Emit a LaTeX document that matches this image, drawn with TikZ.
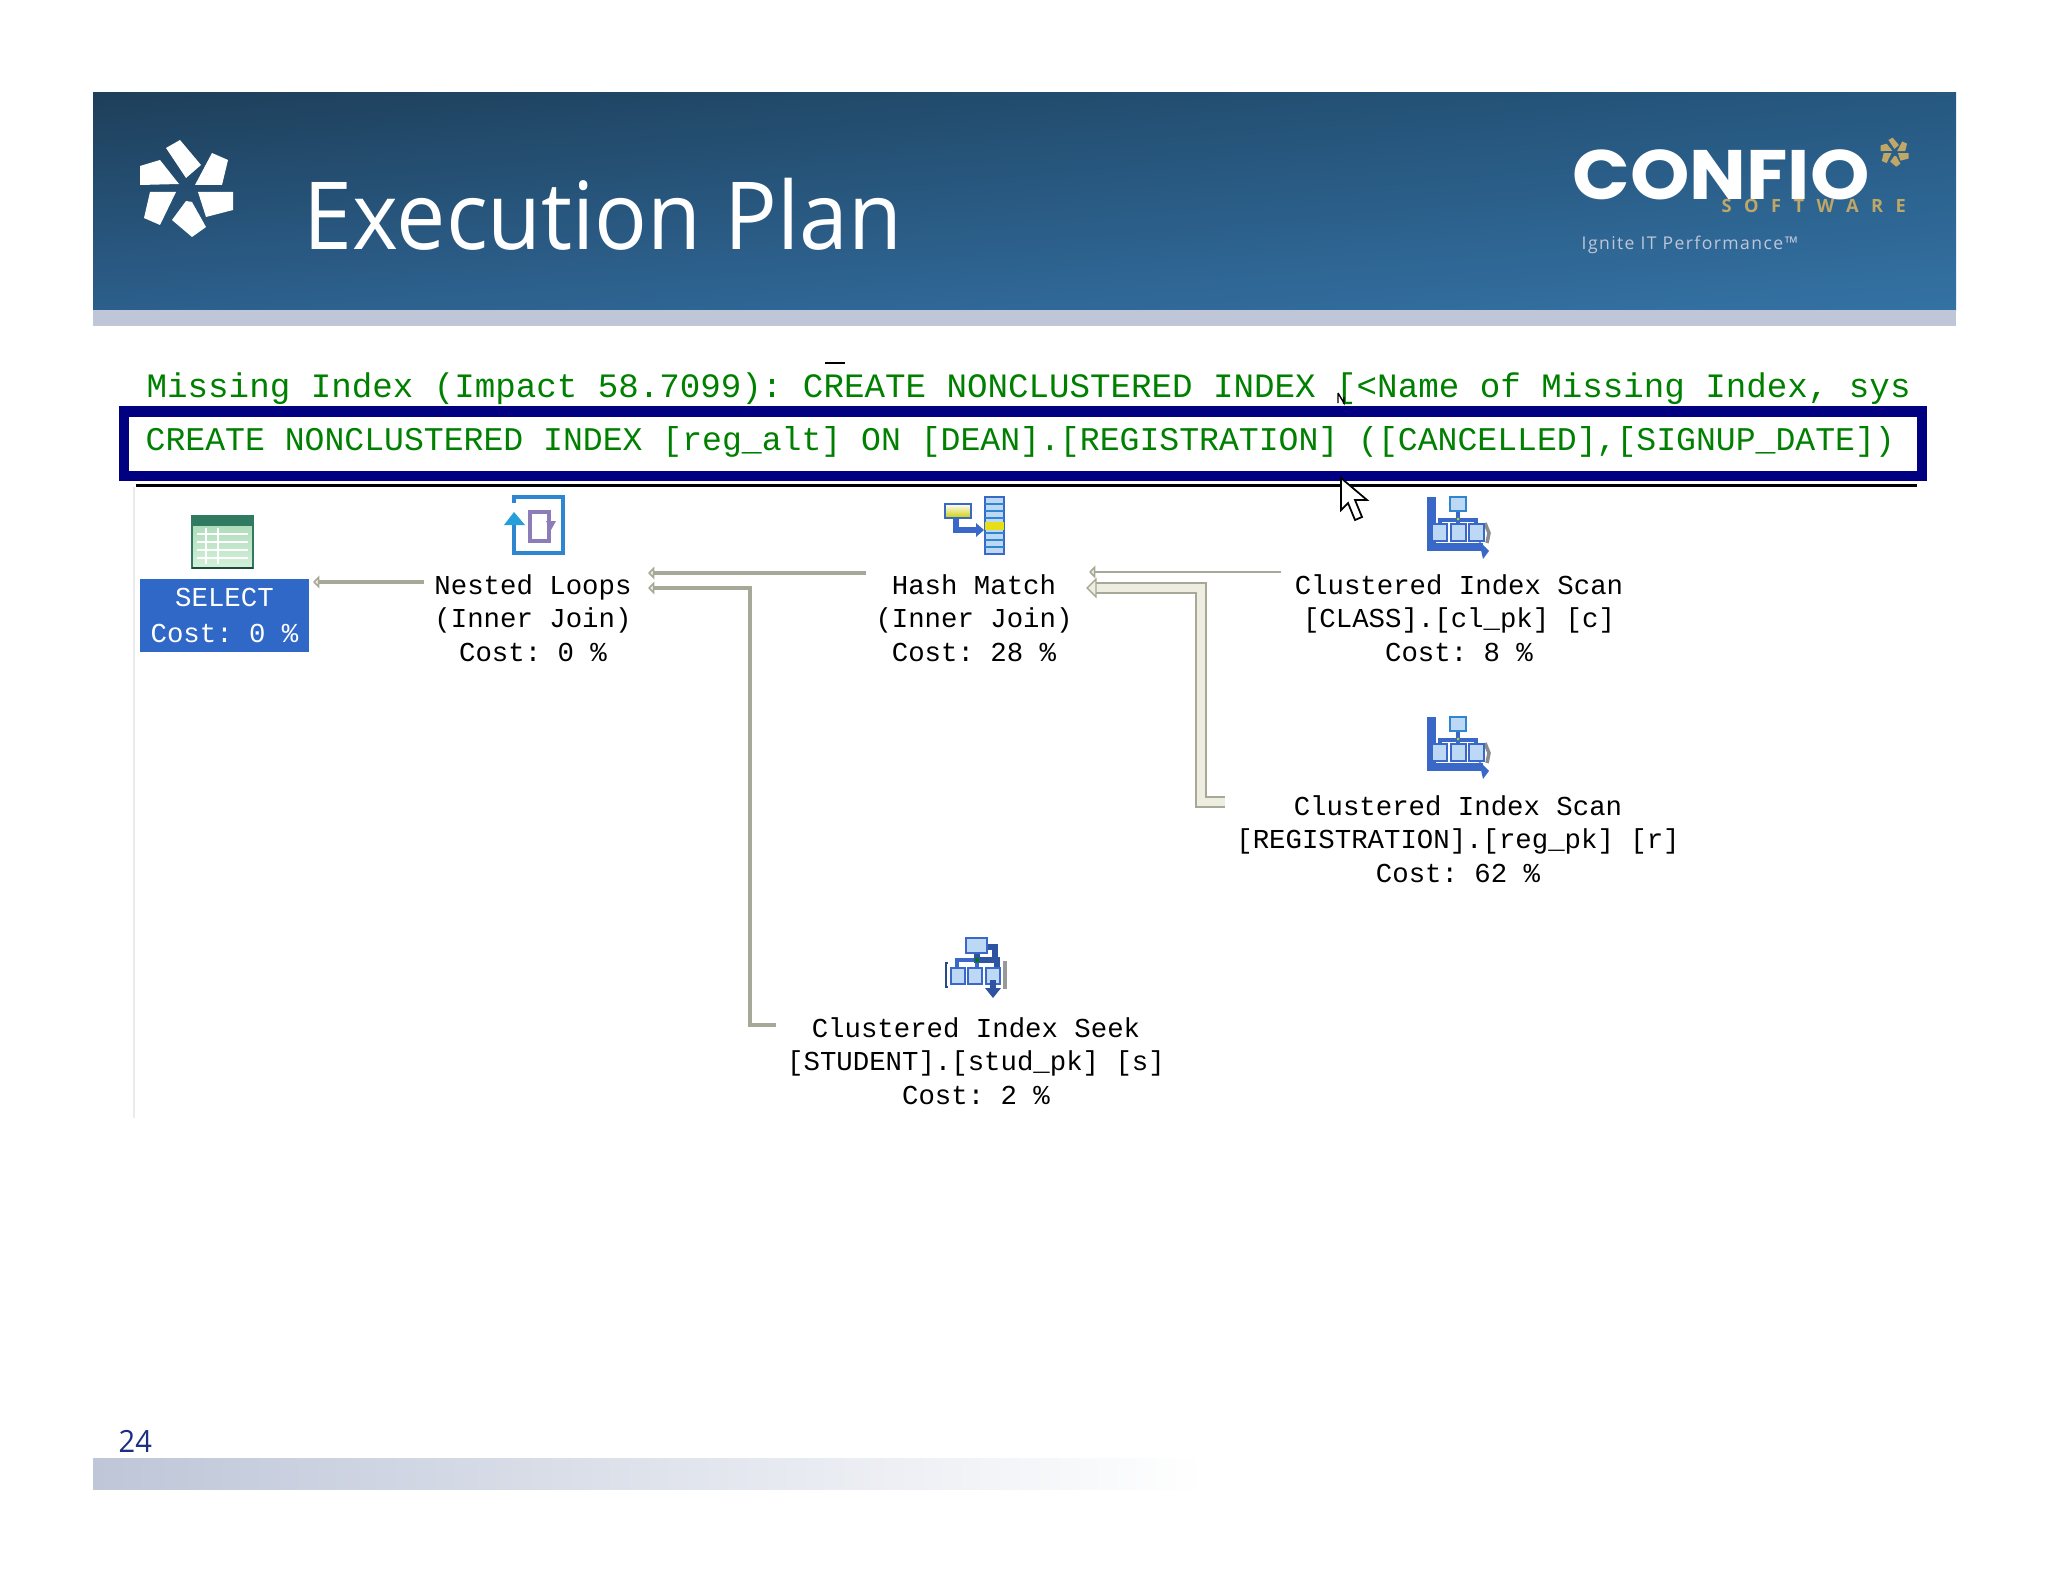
\documentclass[tikz,border=0pt]{standalone}
\usepackage{fontspec}
\setmainfont{Open Sans}
\setmonofont{Liberation Mono}
\newfontfamily\logofont{Poppins}
\usetikzlibrary{arrows.meta, shadings}

\definecolor{bannertl}{HTML}{1E3F5A}
\definecolor{bannertr}{HTML}{265880}
\definecolor{bannerbl}{HTML}{2C5F8C}
\definecolor{bannerbr}{HTML}{3472A4}
\definecolor{stripgrey}{HTML}{BEC6D8}
\definecolor{planblue}{HTML}{3068C8}
\definecolor{indexnavy}{HTML}{000080}
\definecolor{indexgreen}{HTML}{008000}
\definecolor{linkgrey}{HTML}{A8A898}
\definecolor{linkpale}{HTML}{EEEEE0}
\definecolor{logotan}{HTML}{BFA768}
\definecolor{iconblue}{HTML}{3A68C8}
\definecolor{iconpale}{HTML}{BCD8F4}
\definecolor{iconsky}{HTML}{2F86D0}
\definecolor{iconplum}{HTML}{8C7CB8}
\definecolor{tablehead}{HTML}{2F7A60}
\definecolor{tabletop}{HTML}{A8D8B4}
\definecolor{tablelow}{HTML}{D4F0DA}
\definecolor{pagenavy}{HTML}{1A2F80}

\tikzset{
	titletext/.style = {anchor = base west, inner sep = 0, text = white, font = \fontsize{26.7}{30}\selectfont\addfontfeature{FakeStretch = 0.935}},
	indextext/.style = {anchor = base west, inner sep = 0, text = indexgreen, font = \ttfamily\fontsize{9.72}{12}\selectfont},
	plantext/.style = {inner sep = 0, align = center, text = black, font = \ttfamily\fontsize{7.78}{9.6}\selectfont,
		execute at begin node = \strut, execute at end node = \strut},
	selectbox/.style = {inner sep = 0, align = center, font = \ttfamily\fontsize{7.78}{10.2}\selectfont, fill = planblue, text = white,
		minimum width = 1.69cm, minimum height = 0.73cm, execute at begin node = \rule{0pt}{7.2pt}},
	midlink/.style = {draw = linkgrey, line width = 1.3pt},
	thinlink/.style = {draw = linkgrey, line width = 0.8pt},
	widelink/.style = {draw = linkgrey, line width = 0.55pt, double = linkpale, double distance = 2.2pt},
	smalltip/.style = {-{Triangle[length = 1.8pt, width = 3.6pt, fill = linkpale]}}
}

% six petals round (0, 0)
\newcommand{\flowermark}[3]{
	\begin{scope}[shift = {(#1, #2)}, scale = #3]
		\fill (-22, -40) -- (-8, -48) -- (13, -23) -- (-2, -10) -- cycle;
		\fill (24, -35) -- (40, -28) -- (34, -3) -- (7, -3) -- cycle;
		\fill (10, 4) -- (45, 4) -- (45, 22) -- (18, 29) -- cycle;
		\fill (-16, 32) -- (4, 49) -- (18, 39) -- (4, 14) -- (-2, 13) -- cycle;
		\fill (-38, 4) -- (-12, 4) -- (-28, 37) -- (-44, 30) -- cycle;
		\fill (-48, -22) -- (-28, -28) -- (-9, -4) -- (-48, -3) -- cycle;
	\end{scope}
}

\newcommand{\tableicon}[2]{
	\begin{scope}[shift = {(#1, #2)}]
		\shade[top color = tabletop, bottom color = tablelow] (0, 0) rectangle (61, 52);
		\fill[tablehead] (0, 0) rectangle (61, 10);
		\foreach \rowy in {18, 26, 34, 42}
			\draw[white, line width = 0.4pt] (5, \rowy) -- (56, \rowy);
		\foreach \coly in {14, 26}
			\draw[white, line width = 0.4pt] (\coly, 12) -- (\coly, 48);
		\draw[tablehead, line width = 0.3pt] (0, 0) rectangle (61, 52);
		\draw[tablehead!60!black, line width = 0.6pt] (0, 52) -- (61, 52);
	\end{scope}
}

\newcommand{\loopsicon}[2]{
	\begin{scope}[shift = {(#1, #2)}]
		\draw[iconsky, line width = 1.2pt] (12, 4) -- (10, 4) -- (10, 0) -- (59, 0) -- (59, 56) -- (10, 56) -- (10, 20);
		\fill[iconsky!80!cyan] (0, 28) -- (10, 15) -- (21, 28) -- cycle;
		\filldraw[fill = white, draw = iconplum, line width = 1.4pt] (26, 15) rectangle (45, 44);
		\fill[iconplum] (42, 24) -- (52, 24) -- (47, 33) -- cycle;
	\end{scope}
}

\newcommand{\hashicon}[2]{
	\begin{scope}[shift = {(#1, #2)}]
		\filldraw[fill = iconpale, draw = iconblue, line width = 0.3pt] (40, 0) rectangle (59, 57);
		\foreach \rowy in {7, 14, 21, 36, 43, 50}
			\draw[iconsky, line width = 0.7pt] (40, \rowy) -- (59, \rowy);
		\fill[yellow!90!black] (40, 25) rectangle (59, 33);
		\shade[top color = white, bottom color = yellow!80!black, draw = iconblue] (0, 7) rectangle (26, 21);
		\draw[iconblue, line width = 1.5pt] (11, 21) -- (11, 33) -- (32, 33);
		\fill[iconblue] (31, 26) -- (39, 33) -- (31, 40) -- cycle;
	\end{scope}
}

\newcommand{\scanicon}[2]{
	\begin{scope}[shift = {(#1, #2)}]
		\fill[iconblue] (0, 0) rectangle (9, 53);
		\fill[iconblue] (0, 46) rectangle (56, 54);
		\fill[iconblue] (52, 44) -- (62, 54) -- (56, 62) -- cycle;
		\draw[black!45, line width = 1pt] (58, 26) -- (62, 36) -- (60, 46);
		\draw[iconblue, line width = 1.1pt] (31, 13) -- (31, 24) (13, 28) -- (13, 23) -- (49, 23) -- (49, 28) (31, 24) -- (31, 28);
		\filldraw[fill = iconpale, draw = iconsky] (23, 0) rectangle (39, 14);
		\foreach \boxx in {5, 24, 42}
			\filldraw[fill = iconpale, draw = iconblue] (\boxx, 27) rectangle ++(15, 17);
		\fill[yellow!70!green] (31, 22) circle (1.5);
	\end{scope}
}

\newcommand{\seekicon}[2]{
	\begin{scope}[shift = {(#1, #2)}]
		\draw[iconblue, line width = 1.1pt] (12, 30) -- (12, 22) -- (32, 22) -- (32, 30);
		\draw[iconblue!80!black, line width = 1.6pt] (32, 14) -- (32, 22) -- (52, 22) -- (52, 30) (42, 9) -- (50, 9) -- (50, 22);
		\filldraw[fill = iconpale, draw = iconblue] (21, 0) rectangle (42, 15);
		\foreach \boxx in {6, 23, 41}
			\filldraw[fill = iconpale, draw = iconblue] (\boxx, 30) rectangle ++(14, 16);
		\draw[iconblue!70!black, line width = 0.7pt] (3, 25) -- (1, 25) -- (1, 49) -- (3, 49);
		\draw[black!40, line width = 1pt] (58, 25) -- (60, 25) -- (60, 49) -- (58, 49);
		\fill[iconblue!80!black] (45, 42) rectangle (51, 52);
		\fill[iconblue!80!black] (40, 50) -- (56, 50) -- (48, 60) -- cycle;
		\fill[green!50!black] (32, 22) circle (2);
	\end{scope}
}

\begin{document}
\begin{tikzpicture}[x = 0.01cm, y = -0.01cm]
	\useasboundingbox (0, 0) rectangle (2048, 1582);
	% banner
	\shade[upper left = bannertl, upper right = bannertr, lower left = bannerbl, lower right = bannerbr] (93, 93) rectangle (1956, 310);
	\fill[stripgrey] (93, 310) rectangle (1956, 326);
	\begin{scope}[white]
		\flowermark{188}{188}{1}
	\end{scope}
	\node[titletext] (plantitle) at (303, 250) {Execution Plan};
	\node[anchor = base west, inner sep = 0, text = white, font = \logofont\bfseries\fontsize{19.9}{24}\selectfont\addfontfeature{FakeStretch = 1.08}] (logoname) at (1572, 200) {CONFIO};
	\begin{scope}[logotan]
		\flowermark{1895}{152}{0.3}
	\end{scope}
	\node[anchor = base west, inner sep = 0, text = logotan, font = \bfseries\fontsize{5.2}{6}\selectfont\addfontfeature{LetterSpace = 68}] (logosoft) at (1721, 213) {SOFTWARE};
	\node[anchor = base west, inner sep = 0, text = stripgrey, font = \fontsize{5}{6}\selectfont\addfontfeature{LetterSpace = 8}] (logotag) at (1581, 250) {Ignite IT Performance™};

	% index text
	\node[indextext] (missingline) at (146, 397) {Missing Index (Impact 58.7099): CREATE NONCLUSTERED INDEX [<Name of Missing Index, sys};
	\draw[black, line width = 0.7pt] (825, 363) -- (845, 363);
	\draw[indexnavy, line width = 2.85pt] (124, 411.5) rectangle (1921.5, 476);
	\node[indextext, font = \ttfamily\fontsize{9.42}{12}\selectfont] (createline) at (145, 450) {CREATE NONCLUSTERED INDEX [reg\_alt] ON [DEAN].[REGISTRATION] ([CANCELLED],[SIGNUP\_DATE])};
	\draw[black, line width = 0.8pt] (136, 485.5) -- (1917, 485.5);
	\draw[black!8, line width = 0.7pt] (134, 487) -- (134, 1118);

	% operators
	\tableicon{192}{516}
	\node[selectbox] (selectop) at (224.5, 615.5) {SELECT\\Cost: 0 \%};
	\loopsicon{504}{497}
	\node[plantext] (loopsop) at (533, 623) {Nested Loops\\(Inner Join)\\Cost: 0 \%};
	\hashicon{945}{497}
	\node[plantext] (hashop) at (974, 623) {Hash Match\\(Inner Join)\\Cost: 28 \%};
	\scanicon{1427}{497}
	\node[plantext] (classop) at (1459, 623) {Clustered Index Scan\\{[}CLASS].[cl\_pk] [c]\\Cost: 8 \%};
	\scanicon{1427}{717}
	\node[plantext] (regop) at (1458, 844) {Clustered Index Scan\\{[}REGISTRATION].[reg\_pk] [r]\\Cost: 62 \%};
	\seekicon{945}{938}
	\node[plantext] (seekop) at (976, 1066) {Clustered Index Seek\\{[}STUDENT].[stud\_pk] [s]\\Cost: 2 \%};

	% connector ends
	\coordinate (selectin) at (313, 582);
	\coordinate (loopsout) at (424, 582);
	\coordinate (loopsin) at (648, 573);
	\coordinate (hashout) at (866, 573);
	\coordinate (loopsinb) at (648, 588);
	\coordinate (seekout) at (776, 1025);
	\coordinate (hashin) at (1089, 572);
	\coordinate (classout) at (1281, 572);
	\coordinate (hashinb) at (1096, 588);
	\coordinate (regout) at (1225, 802);

	\draw[midlink, smalltip] (loopsout) -- (selectin);
	\draw[midlink, smalltip] (hashout) -- (loopsin);
	\draw[midlink, smalltip] (seekout) -| (750, 588) -- (loopsinb);
	\draw[thinlink, smalltip] (classout) -- (hashin);
	\draw[widelink] (regout) -- (1201, 802) -- (1201, 588) -- (hashinb);
	\filldraw[fill = linkpale, draw = linkgrey, line width = 0.4pt] (hashinb) -- ++(0, -9) -- ++(-9, 9) -- ++(9, 9) -- cycle;

	% pointer
	\filldraw[fill = white, draw = black, line width = 0.5pt] (1341, 478) -- (1341, 510) -- (1348, 503) -- (1355, 520) -- (1362, 517) -- (1355, 500) -- (1367, 500) -- cycle;
	\draw[black, line width = 0.4pt] (1338, 393) -- (1338, 403) (1338, 393) -- (1344, 403) -- (1344, 397);

	% footer
	\node[anchor = base west, inner sep = 0, text = pagenavy, font = \fontsize{8.7}{10}\selectfont\addfontfeature{FakeStretch = 0.95}] (pagenum) at (118, 1452) {24};
	\shade[left color = stripgrey, right color = white] (93, 1458) rectangle (1205, 1489);
\end{tikzpicture}
\end{document}
